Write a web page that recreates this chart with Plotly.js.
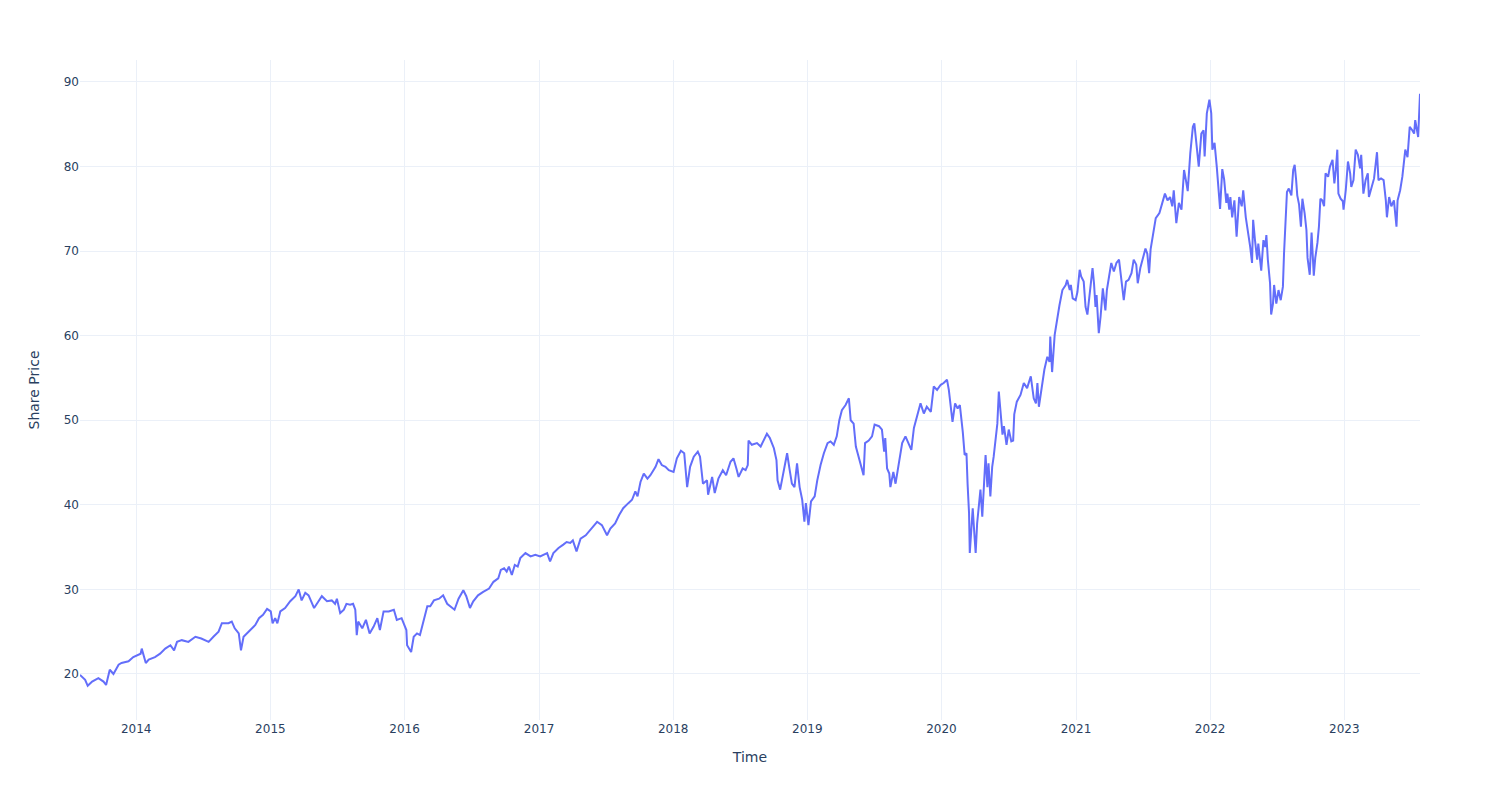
<!DOCTYPE html>
<html>
<head>
<meta charset="utf-8">
<script src="https://cdn.plot.ly/plotly-3.0.1.min.js"></script>
<style>html,body{margin:0;padding:0;background:#fff;}#chart{width:1500px;height:800px;}</style>
</head>
<body>
<div id="chart"></div>
<script>
const dates = [
"2013-08-01","2013-08-15","2013-08-22","2013-09-03","2013-09-20","2013-10-04","2013-10-11","2013-10-21","2013-10-31","2013-11-14","2013-11-22","2013-12-11","2013-12-24",
"2014-01-13","2014-01-16","2014-01-27","2014-02-04","2014-02-21","2014-03-07","2014-03-21","2014-04-04","2014-04-14","2014-04-22","2014-05-05","2014-05-23","2014-06-11","2014-06-27","2014-07-17","2014-07-30","2014-08-13","2014-08-22","2014-09-09","2014-09-18","2014-09-26","2014-10-07","2014-10-13","2014-10-20","2014-11-07","2014-11-21","2014-12-01","2014-12-12","2014-12-23",
"2015-01-02","2015-01-07","2015-01-14","2015-01-20","2015-01-28","2015-02-10","2015-02-24","2015-03-10","2015-03-19","2015-03-27","2015-04-06","2015-04-15","2015-04-24","2015-04-30","2015-05-12","2015-05-21","2015-06-04","2015-06-17","2015-06-26","2015-07-01","2015-07-10","2015-07-20","2015-07-27","2015-08-06","2015-08-14","2015-08-20","2015-08-24","2015-08-28","2015-09-08","2015-09-18","2015-09-28","2015-10-09","2015-10-19","2015-10-26","2015-11-05","2015-11-19","2015-12-03","2015-12-11","2015-12-24",
"2016-01-06","2016-01-08","2016-01-19","2016-01-26","2016-02-04","2016-02-12","2016-02-22","2016-03-03","2016-03-11","2016-03-21","2016-04-04","2016-04-15","2016-04-26","2016-05-05","2016-05-16","2016-05-27","2016-06-09","2016-06-17","2016-06-27","2016-07-06","2016-07-19","2016-08-02","2016-08-18","2016-08-30","2016-09-12","2016-09-19","2016-09-28","2016-10-05","2016-10-11","2016-10-19","2016-10-27","2016-11-04","2016-11-11","2016-11-25","2016-12-09","2016-12-22",
"2017-01-04","2017-01-23","2017-01-31","2017-02-09","2017-02-23","2017-03-08","2017-03-17","2017-03-27","2017-04-03","2017-04-13","2017-04-24","2017-05-08","2017-05-19","2017-06-08","2017-06-21","2017-07-05","2017-07-14","2017-07-27","2017-08-07","2017-08-18","2017-09-01","2017-09-11","2017-09-20","2017-09-26","2017-10-04","2017-10-13","2017-10-23","2017-10-31","2017-11-14","2017-11-22","2017-12-01","2017-12-11","2017-12-20",
"2018-01-02","2018-01-11","2018-01-22","2018-01-31","2018-02-08","2018-02-16","2018-02-26","2018-03-09","2018-03-15","2018-03-23","2018-04-03","2018-04-06","2018-04-17","2018-04-24","2018-05-04","2018-05-16","2018-05-25","2018-06-06","2018-06-14","2018-06-22","2018-06-28","2018-07-09","2018-07-17","2018-07-23","2018-07-25","2018-08-03","2018-08-17","2018-08-27","2018-09-05","2018-09-13","2018-09-21","2018-10-02","2018-10-09","2018-10-12","2018-10-19","2018-10-29","2018-11-07","2018-11-14","2018-11-20","2018-11-27","2018-12-04","2018-12-11","2018-12-18","2018-12-24","2018-12-28",
"2019-01-04","2019-01-11","2019-01-21","2019-01-28","2019-02-06","2019-02-15","2019-02-25","2019-03-05","2019-03-14","2019-03-22","2019-03-29","2019-04-05","2019-04-15","2019-04-24","2019-04-29","2019-05-07","2019-05-13","2019-05-21","2019-06-03","2019-06-07","2019-06-17","2019-06-26","2019-07-03","2019-07-15","2019-07-23","2019-07-29","2019-08-01","2019-08-06","2019-08-12","2019-08-15","2019-08-23","2019-08-29","2019-09-06","2019-09-16","2019-09-25","2019-10-04","2019-10-11","2019-10-18","2019-10-28","2019-11-05","2019-11-14","2019-11-22","2019-12-03","2019-12-11","2019-12-20","2019-12-30",
"2020-01-07","2020-01-16","2020-01-21","2020-01-27","2020-01-31","2020-02-07","2020-02-14","2020-02-20","2020-02-24","2020-02-28","2020-03-04","2020-03-09","2020-03-12","2020-03-16","2020-03-18","2020-03-23","2020-03-26","2020-03-31","2020-04-03","2020-04-07","2020-04-13","2020-04-16","2020-04-21","2020-04-27","2020-04-30","2020-05-05","2020-05-08","2020-05-13","2020-05-18","2020-05-22","2020-05-27","2020-06-01","2020-06-05","2020-06-10","2020-06-15","2020-06-19","2020-06-26","2020-07-02","2020-07-09","2020-07-14","2020-07-17","2020-07-24","2020-08-03","2020-08-12","2020-08-21","2020-08-31","2020-09-08","2020-09-14","2020-09-18","2020-09-22","2020-10-01","2020-10-07","2020-10-15","2020-10-21","2020-10-23","2020-10-28","2020-11-04","2020-11-11","2020-11-17","2020-11-25","2020-12-04","2020-12-08","2020-12-15","2020-12-18","2020-12-23","2020-12-31",
"2021-01-05","2021-01-11","2021-01-15","2021-01-22","2021-01-27","2021-02-01","2021-02-08","2021-02-15","2021-02-19","2021-02-23","2021-02-26","2021-03-04","2021-03-09","2021-03-15","2021-03-22","2021-03-26","2021-04-01","2021-04-07","2021-04-14","2021-04-21","2021-04-28","2021-05-03","2021-05-07","2021-05-11","2021-05-17","2021-05-24","2021-06-01","2021-06-07","2021-06-14","2021-06-18","2021-06-25","2021-07-02","2021-07-09","2021-07-14","2021-07-19","2021-07-23","2021-07-30","2021-08-06","2021-08-16","2021-08-24","2021-08-31","2021-09-07","2021-09-14","2021-09-20","2021-09-24","2021-10-01","2021-10-08","2021-10-15","2021-10-22","2021-10-27","2021-11-01","2021-11-08","2021-11-15","2021-11-19","2021-11-26","2021-12-01","2021-12-08","2021-12-14","2021-12-17","2021-12-23","2021-12-30",
"2022-01-04","2022-01-07","2022-01-13","2022-01-19","2022-01-25","2022-01-28","2022-02-03","2022-02-08","2022-02-14","2022-02-17","2022-02-22","2022-02-25","2022-03-02","2022-03-08","2022-03-14","2022-03-21","2022-03-28","2022-04-01","2022-04-08","2022-04-14","2022-04-20","2022-04-25","2022-04-28","2022-05-03","2022-05-09","2022-05-12","2022-05-17","2022-05-20","2022-05-26","2022-05-31","2022-06-03","2022-06-07","2022-06-13","2022-06-16","2022-06-21","2022-06-24","2022-06-30","2022-07-06","2022-07-12","2022-07-18","2022-07-21","2022-07-26","2022-07-29","2022-08-03","2022-08-10","2022-08-15","2022-08-19","2022-08-23","2022-08-26","2022-08-31","2022-09-05","2022-09-09","2022-09-15","2022-09-20","2022-09-23","2022-09-29","2022-10-04","2022-10-10","2022-10-14","2022-10-20","2022-10-24","2022-10-28","2022-11-02","2022-11-07","2022-11-11","2022-11-18","2022-11-23","2022-11-30","2022-12-05","2022-12-09","2022-12-13","2022-12-16","2022-12-22","2022-12-28","2022-12-30",
"2023-01-05","2023-01-11","2023-01-17","2023-01-20","2023-01-26","2023-02-01","2023-02-07","2023-02-13","2023-02-16","2023-02-22","2023-02-28","2023-03-06","2023-03-09","2023-03-16","2023-03-23","2023-03-31","2023-04-04","2023-04-11","2023-04-18","2023-04-24","2023-04-27","2023-05-03","2023-05-09","2023-05-16","2023-05-23","2023-05-26","2023-06-02","2023-06-08","2023-06-13","2023-06-16","2023-06-22","2023-06-28","2023-07-05","2023-07-10","2023-07-13","2023-07-18","2023-07-21","2023-07-26"
];
const prices = [
19.9,19.3,18.6,19.1,19.5,19.1,18.7,20.5,20.0,21.1,21.3,21.5,22.0,
22.4,23.0,21.3,21.7,22.0,22.4,23.0,23.4,22.8,23.8,24.0,23.8,24.4,24.2,23.8,24.4,25.0,26.0,26.0,26.2,25.4,24.8,22.8,24.4,25.2,25.8,26.6,27.0,27.7,
27.4,26.0,26.6,26.0,27.4,27.8,28.6,29.2,30.0,28.7,29.6,29.3,28.3,27.8,28.6,29.2,28.6,28.7,28.3,28.9,27.2,27.6,28.3,28.2,28.3,27.6,24.6,26.2,25.4,26.4,24.8,25.6,26.6,25.2,27.4,27.4,27.6,26.4,26.6,
25.2,23.4,22.6,24.4,24.8,24.6,26.2,28.0,28.0,28.7,28.9,29.3,28.3,28.0,27.6,28.9,29.9,29.2,27.8,28.6,29.3,29.7,30.1,30.9,31.3,32.3,32.5,32.1,32.7,31.7,32.9,32.7,33.7,34.3,33.9,34.1,
33.9,34.3,33.3,34.3,34.9,35.3,35.6,35.5,35.8,34.5,36.0,36.4,37.0,38.0,37.6,36.4,37.2,37.8,38.8,39.6,40.2,40.6,41.6,41.0,42.7,43.7,43.1,43.5,44.5,45.4,44.7,44.5,44.1,
43.9,45.5,46.4,46.1,42.1,44.5,45.7,46.3,45.7,42.5,42.9,41.2,43.3,41.4,43.1,44.1,43.5,45.1,45.5,44.3,43.3,44.3,44.1,44.7,47.6,47.1,47.3,46.9,47.6,48.4,47.9,46.7,45.3,42.9,41.8,44.1,46.1,44.1,42.5,42.1,44.9,42.1,40.6,38.0,40.2,
37.6,40.4,41.0,42.9,44.7,46.1,47.3,47.5,47.1,48.1,50.0,51.2,51.8,52.6,50.0,49.6,46.9,45.7,43.5,47.3,47.6,48.1,49.5,49.3,48.9,46.3,47.9,44.3,43.7,42.1,43.9,42.5,44.5,47.3,48.1,47.1,46.5,49.1,50.7,52.0,50.8,51.6,51.0,54.0,53.6,54.2,
54.4,54.8,53.6,51.6,49.8,52.0,51.4,51.8,50.4,48.6,45.9,46.1,42.5,39.0,34.3,37.0,39.6,36.2,34.3,37.8,40.8,41.8,38.6,42.9,45.9,42.1,44.9,41.0,44.5,45.7,48.1,49.6,53.4,50.8,48.3,49.3,47.1,48.9,47.5,47.6,50.7,52.2,53.0,54.4,53.8,55.2,52.6,52.0,54.4,51.6,54.4,56.0,57.5,56.9,59.9,55.7,60.1,62.1,63.6,65.4,66.0,66.6,65.4,66.0,64.4,64.2,
65.2,67.8,67.0,66.4,63.4,62.5,65.4,68.0,66.2,63.4,64.8,60.3,62.3,65.6,63.0,65.4,67.0,68.6,67.6,68.6,69.0,67.0,66.0,64.2,66.4,66.6,67.4,69.0,68.4,66.2,68.0,69.0,70.3,69.7,67.4,70.2,72.0,73.9,74.5,75.7,76.8,76.0,76.4,75.3,77.2,73.3,75.7,74.9,79.6,78.4,77.1,81.6,84.7,85.1,82.0,80.0,83.9,84.3,81.2,86.3,87.9,
86.3,82.0,82.8,80.0,77.2,75.0,79.7,78.5,75.7,76.8,74.9,76.4,74.0,76.0,71.7,76.4,75.3,77.2,74.0,72.3,70.5,68.6,73.7,71.3,69.0,70.9,69.3,67.7,71.3,70.5,71.9,69.0,66.2,62.5,63.8,66.0,63.8,65.4,64.2,65.8,69.7,74.5,77.0,77.4,76.6,79.6,80.2,78.4,76.6,75.5,72.9,76.2,74.5,72.5,69.2,67.2,72.2,67.1,69.2,71.0,72.9,76.2,76.0,75.3,79.2,78.8,80.0,80.8,78.0,79.6,82.0,76.8,76.2,75.9,74.9,
77.2,80.6,79.2,77.6,78.4,82.0,81.4,79.8,81.4,76.8,78.4,79.2,76.4,77.6,78.6,81.7,78.4,78.6,78.4,76.0,74.0,76.4,75.3,76.0,72.9,76.0,77.2,78.8,81.2,82.0,81.1,84.7,84.3,83.9,85.5,84.3,83.5,88.6
];
const xTitle = "Time";
const yTitle = "Share Price";

const grid = "#EBF0F8";
const trace = {
  x: dates, y: prices, type: "scatter", mode: "lines",
  line: {color: "#636efa", width: 2}, name: ""
};
const layout = {
  width: 1500, height: 800,
  margin: {l: 80, r: 80, t: 60, b: 80},
  paper_bgcolor: "#fff", plot_bgcolor: "#fff",
  font: {family: "DejaVu Sans", color: "#2a3f5f", size: 12},
  showlegend: false,
  xaxis: {type: "date", title: {text: xTitle, font: {size: 14}, standoff: 17}, gridcolor: grid, zeroline: false, showline: false, ticks: "", automargin: false},
  yaxis: {title: {text: yTitle, font: {size: 14}, standoff: 20}, range: [14.56, 92.6], gridcolor: grid, zeroline: false, showline: false, ticks: "", dtick: 10, automargin: false}
};
Plotly.newPlot("chart", [trace], layout, {displayModeBar: false, staticPlot: true});
</script>
</body>
</html>
